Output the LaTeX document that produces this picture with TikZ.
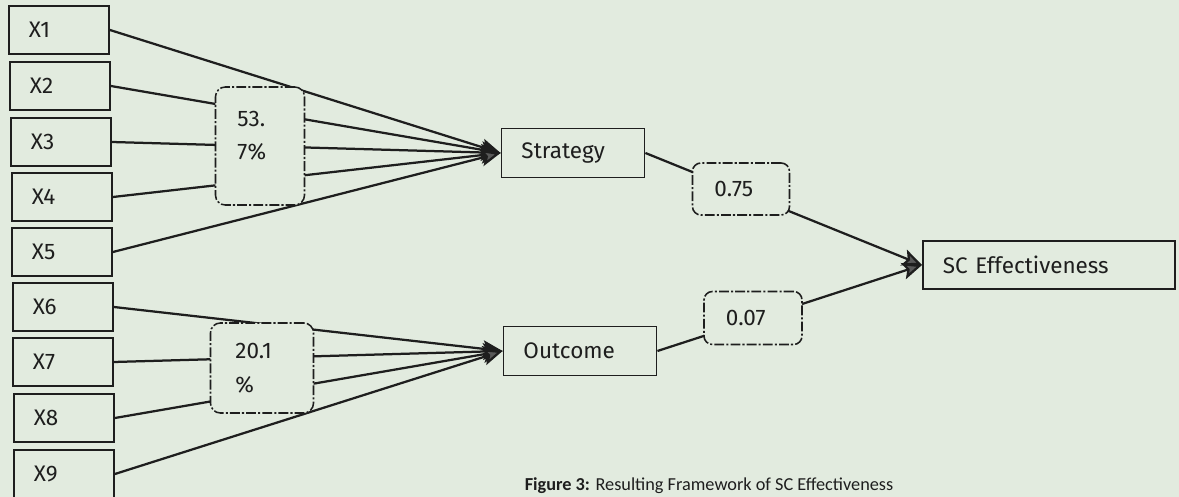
\documentclass[tikz,border=0pt]{standalone}
\usepackage{fontspec}
\setmainfont{Fira Sans}
\newfontfamily\capfont{Carlito}
\usepackage{tikz}
\usetikzlibrary{arrows.meta}
\definecolor{paper}{RGB}{226,235,223}
\definecolor{ink}{RGB}{30,30,30}

\begin{document}
\begin{tikzpicture}[
    x=0.025cm, y=-0.025cm,
    box/.style={rectangle, draw=ink, line width=1.3pt, fill=paper, inner xsep=0.5cm, inner ysep=0pt,
                text width=#1, align=left, minimum height=1.2cm, text=ink},
    val/.style={rectangle, draw=ink, line width=1.1pt, fill=paper, rounded corners=6pt,
                dash pattern=on 7pt off 1.5pt on 1.5pt off 1.5pt, inner xsep=0.55cm,
                text width=#1, align=left, text=ink},
    arr/.style={-{Stealth[length=14pt, width=12pt, inset=3pt, fill=black!65]}, line width=1.6pt, draw=ink},
    font=\fontsize{16}{19}\selectfont
]
\useasboundingbox[fill=paper] (0,0) rectangle (1179,497);

% input boxes
\node[box=1.5cm] (x1) at (59,30) {X1};
\node[box=1.5cm] (x2) at (60,86) {X2};
\node[box=1.5cm] (x3) at (61,142) {X3};
\node[box=1.5cm] (x4) at (62,197) {X4};
\node[box=1.5cm] (x5) at (62,252) {X5};
\node[box=1.5cm] (x6) at (63,307) {X6};
\node[box=1.5cm] (x7) at (63,362) {X7};
\node[box=1.5cm] (x8) at (64,418) {X8};
\node[box=1.5cm] (x9) at (64,474) {X9};

% constructs
\node[box=2.575cm, minimum height=1.225cm] (strat) at (573,153) {Strategy};
\node[box=2.825cm, minimum height=1.225cm] (outc) at (580,351) {Outcome};
\node[box=5.3cm] (sce) at (1049,265) {SC Effectiveness};

\foreach \i in {1,...,5} \draw[arr] (x\i.east) -- (strat.west);
\foreach \i in {6,...,9} \draw[arr] (x\i.east) -- (outc.west);
\draw[arr] (strat.east) -- (sce.west);
\draw[arr] (outc.east) -- (sce.west);

% explained variance and path values
\node[val=1.125cm, minimum width=2.225cm, minimum height=2.95cm, rounded corners=7pt, text depth=39pt] (p1) at (260,146) {53.\\[5pt]7\%};
\node[val=1.325cm, minimum width=2.575cm, minimum height=2.25cm, rounded corners=7pt] (p2) at (262,368) {20.1\\[5pt]\%};
\node[val=1.325cm, minimum height=1.3cm] (c1) at (741,189) {0.75};
\node[val=1.35cm, minimum height=1.325cm] (c2) at (753,318) {0.07};

\node[font=\capfont\fontsize{13}{16}\selectfont, text=ink] (cap) at (709,486) {\textbf{Figure 3:} Resulting Framework of SC Effectiveness};
\end{tikzpicture}
\end{document}
